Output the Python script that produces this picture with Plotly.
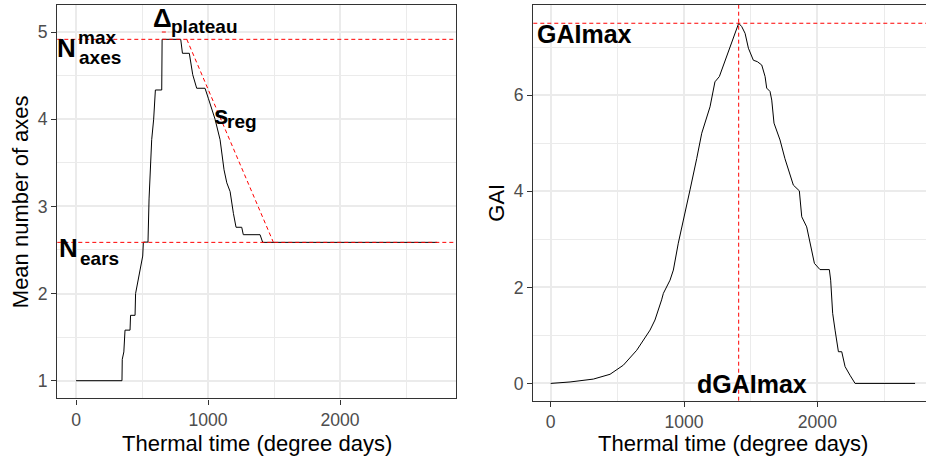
import plotly.graph_objects as go

# ---------------- data ----------------
# Left panel: mean number of axes vs thermal time
tt_axes = [0, 348, 350, 362, 371, 409, 413, 447, 451, 505, 510, 545, 553, 573,
           588, 601, 649, 652, 793, 806, 858, 884, 914, 977, 1002, 1053, 1091,
           1121, 1142, 1167, 1192, 1212, 1255, 1267, 1394, 1414, 2735]
n_axes = [1.0, 1.0, 1.245, 1.33, 1.58, 1.58, 1.75, 1.75, 2.0, 2.43, 2.59, 2.59,
          3.085, 3.765, 4.0, 4.335, 4.335, 4.916, 4.916, 4.756, 4.756, 4.51,
          4.355, 4.355, 4.24, 4.0, 3.765, 3.42, 3.27, 3.17, 2.92, 2.76, 2.76,
          2.675, 2.675, 2.587, 2.587]

n_axes_max = 4.916
n_ears = 2.587
plateau_x = [650, 705]
plateau_y = 5.0
reg_x = [839, 1495]
reg_y = [4.916, 2.587]

# Right panel: GAI vs thermal time
tt_gai = [0, 145, 320, 445, 545, 645, 745, 782, 832, 845, 895, 920, 957, 995,
          1045, 1095, 1133, 1195, 1232, 1265, 1307, 1358, 1395, 1410, 1433,
          1458, 1483, 1520, 1550, 1583, 1608, 1620, 1645, 1658, 1675, 1695,
          1720, 1757, 1783, 1820, 1865, 1883, 1920, 1945, 1978, 2020, 2090,
          2100, 2115, 2133, 2158, 2183, 2208, 2245, 2283, 2733]
gai = [0, 0.03, 0.09, 0.19, 0.38, 0.69, 1.11, 1.32, 1.74, 1.875, 2.15, 2.36,
       2.92, 3.37, 4.03, 4.68, 5.21, 5.76, 6.28, 6.39, 6.70, 7.08, 7.36, 7.5,
       7.43, 7.29, 6.98, 6.73, 6.70, 6.63, 6.39, 6.15, 6.08, 5.90, 5.42, 5.28,
       5.07, 4.68, 4.44, 4.13, 4.01, 3.47, 3.26, 2.92, 2.5, 2.37, 2.37, 2.15,
       1.46, 1.11, 0.66, 0.66, 0.35, 0.17, 0, 0]
gai_max = 7.5
d_gai_max = 1410

x_ticks = [0, 1000, 2000]
x_tick_labels = ["0", "1000", "2000"]
y1_ticks = [1, 2, 3, 4, 5]
y2_ticks = [0, 2, 4, 6]

# ---------------- layout helpers ----------------
W, H = 926, 462
FONT = "Liberation Sans"


def px(x):
    return x / W


def py(y):
    return 1 - y / H


axis_common = dict(
    showline=True, linecolor="#333333", linewidth=1.4,
    ticks="outside", ticklen=5, tickwidth=1.4, tickcolor="#333333",
    showgrid=True, gridcolor="#EBEBEB", gridwidth=1.5,
    zeroline=False, tickfont=dict(family=FONT, size=17.6, color="#4D4D4D"),
)

fig = go.Figure()

fig.add_trace(go.Scatter(x=tt_axes, y=n_axes, mode="lines",
                         line=dict(color="black", width=1),
                         xaxis="x", yaxis="y", showlegend=False))
fig.add_trace(go.Scatter(x=tt_gai, y=gai, mode="lines",
                         line=dict(color="black", width=1),
                         xaxis="x2", yaxis="y2", showlegend=False))

red = dict(color="red", width=1, dash="4px,3px")
shapes = [
    dict(type="line", xref="x domain", yref="y", x0=0, x1=1,
         y0=n_axes_max, y1=n_axes_max, line=red, layer="above"),
    dict(type="line", xref="x domain", yref="y", x0=0, x1=1,
         y0=n_ears, y1=n_ears, line=red, layer="above"),
    dict(type="line", xref="x", yref="y", x0=plateau_x[0], x1=plateau_x[1],
         y0=plateau_y, y1=plateau_y, line=red, layer="above"),
    dict(type="line", xref="x", yref="y", x0=reg_x[0], x1=reg_x[1],
         y0=reg_y[0], y1=reg_y[1], line=red, layer="above"),
    dict(type="line", xref="x2 domain", yref="y2", x0=0, x1=1,
         y0=gai_max, y1=gai_max, line=red, layer="above"),
    dict(type="line", xref="x2", yref="y2 domain", x0=d_gai_max, x1=d_gai_max,
         y0=0, y1=1, line=red, layer="above"),
]


def ann(text, x, y, size, xanchor="left", bold=True, angle=0, color="black"):
    return dict(text=("<b>%s</b>" % text) if bold else text,
                x=px(x), y=py(y), xref="paper", yref="paper",
                xanchor=xanchor, yanchor="middle", showarrow=False,
                borderpad=0, textangle=angle,
                font=dict(family=FONT, size=size, color=color))


annotations = [
    ann("N", 56.4, 48.5, 26),
    ann("max", 77.2, 37.0, 19),
    ann("axes", 77.5, 57.9, 19),
    ann("N", 58.1, 248.3, 26),
    ann("ears", 78.5, 258.4, 19),
    ann("\u0394", 151.5, 18.3, 26),
    ann("plateau", 169.6, 26.9, 19),
    ann("s", 213, 115, 26),
    ann("reg", 226, 121.7, 19),
    ann("GAImax", 535.5, 34, 25),
    ann("dGAImax", 752, 384, 25, xanchor="center"),
    ann("Thermal time (degree days)", 256.5, 443.5, 22, xanchor="center", bold=False),
    ann("Thermal time (degree days)", 732.8, 443.0, 22, xanchor="center", bold=False),
    ann("Mean number of axes", 20.7, 201.5, 22, xanchor="center", bold=False, angle=-90),
    ann("GAI", 495.7, 203, 22, xanchor="center", bold=False, angle=-90),
]

fig.update_layout(
    width=W, height=H,
    margin=dict(l=0, r=0, t=0, b=0),
    paper_bgcolor="white", plot_bgcolor="white",
    font=dict(family=FONT),
    showlegend=False,
    xaxis=dict(axis_common, domain=[px(57.3), px(455.7)], range=[-142, 2876],
               tickvals=x_ticks, ticktext=x_tick_labels, mirror=True,
               minor=dict(dtick=500, tick0=0, showgrid=True,
                          gridcolor="#EBEBEB", gridwidth=0.8, ticks=""),
               anchor="y"),
    yaxis=dict(axis_common, domain=[py(398.3), py(5)], range=[0.798, 5.31],
               tickvals=y1_ticks, mirror=True,
               minor=dict(dtick=0.5, tick0=0, showgrid=True,
                          gridcolor="#EBEBEB", gridwidth=0.8, ticks=""),
               anchor="x"),
    xaxis2=dict(axis_common, domain=[px(533.3), 1], range=[-130.5, 2815],
                tickvals=x_ticks, ticktext=x_tick_labels, mirror=True,
                minor=dict(dtick=500, tick0=0, showgrid=True,
                           gridcolor="#EBEBEB", gridwidth=0.8, ticks=""),
                anchor="y2"),
    yaxis2=dict(axis_common, domain=[py(400.7), py(5)], range=[-0.36, 7.88],
                tickvals=y2_ticks, mirror=False,
                minor=dict(dtick=1, tick0=0, showgrid=True,
                           gridcolor="#EBEBEB", gridwidth=0.8, ticks=""),
                anchor="x2"),
    shapes=shapes,
    annotations=annotations,
)

fig.write_html("out.html")
